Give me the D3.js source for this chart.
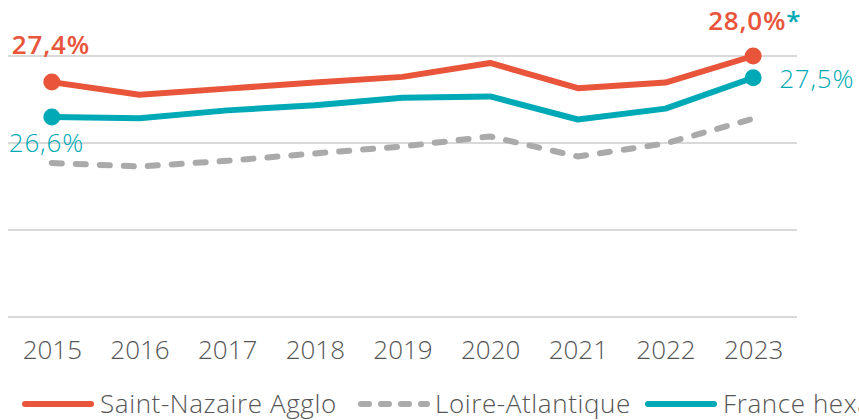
<!DOCTYPE html>
<html>
<head>
<meta charset="utf-8">
<script src="https://cdn.jsdelivr.net/npm/d3@7"></script>
<style>
  body { margin: 0; background: #fff; }
  svg { display: block; font-family: "Open Sans", "Noto Sans", sans-serif; }
</style>
</head>
<body>
<div id="chart"></div>
<script>
var years = ["2015", "2016", "2017", "2018", "2019", "2020", "2021", "2022", "2023"];
var saintNazaire = [27.4, 27.11, 27.25, 27.39, 27.52, 27.84, 27.26, 27.39, 28.0];
var loireAtlantique = [25.54, 25.46, 25.59, 25.76, 25.92, 26.15, 25.69, 25.99, 26.56];
var franceHexa = [26.6, 26.57, 26.75, 26.87, 27.04, 27.07, 26.54, 26.79, 27.5];
var gridValues = [22, 24, 26, 28];
var seriesNames = ["Saint-Nazaire Agglo", "Loire-Atlantique", "France hexagonale"];

var svgWidth = 859;
var svgHeight = 420;

var orange = "#e8553a";
var teal = "#00a9b6";
var grey = "#aaaaaa";

var svg = d3.select("#chart")
    .append("svg")
    .attr("width", svgWidth)
    .attr("height", svgHeight);

var xScale = d3.scalePoint()
    .domain(years)
    .range([8, 797])
    .padding(0.5);

var yScale = d3.scaleLinear()
    .domain([22, 28])
    .range([317, 56]);

// gridlines
svg.append("g")
    .selectAll("line")
    .data(gridValues)
    .enter()
    .append("line")
    .attr("x1", 8)
    .attr("x2", 797)
    .attr("y1", d => yScale(d))
    .attr("y2", d => yScale(d))
    .attr("stroke", "#d9d9d9")
    .attr("stroke-width", 2);

// x axis
var bottomAxis = d3.axisBottom(xScale).tickSize(0).tickPadding(24);
var axisG = svg.append("g")
    .attr("transform", "translate(0, 317)")
    .call(bottomAxis);
axisG.select(".domain").remove();
axisG.selectAll("text")
    .attr("font-size", "26px")
    .attr("font-weight", 300)
    .attr("font-family", "'Open Sans', 'Noto Sans', sans-serif")
    .attr("fill", "#555555");

var line = d3.line()
    .x((d, i) => xScale(years[i]))
    .y(d => yScale(d));

svg.append("path")
    .datum(loireAtlantique)
    .attr("d", line)
    .attr("fill", "none")
    .attr("stroke", grey)
    .attr("stroke-width", 6)
    .attr("stroke-linecap", "round")
    .attr("stroke-dasharray", "10,14");

svg.append("path")
    .datum(franceHexa)
    .attr("d", line)
    .attr("fill", "none")
    .attr("stroke", teal)
    .attr("stroke-width", 6)
    .attr("stroke-linejoin", "round");

svg.append("path")
    .datum(saintNazaire)
    .attr("d", line)
    .attr("fill", "none")
    .attr("stroke", orange)
    .attr("stroke-width", 6)
    .attr("stroke-linejoin", "round");

// end points
var last = years.length - 1;
[[franceHexa, teal], [saintNazaire, orange]].forEach(function(s) {
    svg.selectAll(null)
        .data([0, last])
        .enter()
        .append("circle")
        .attr("cx", i => xScale(years[i]))
        .attr("cy", i => yScale(s[0][i]))
        .attr("r", 8.5)
        .attr("fill", s[1]);
});

// value labels
var fmt = v => v.toFixed(1).replace(".", ",") + "%";

svg.append("text")
    .attr("x", xScale(years[0]) - 40)
    .attr("y", yScale(saintNazaire[0]) - 28)
    .attr("font-size", "26px")
    .attr("letter-spacing", "0.8px")
    .attr("font-weight", 600)
    .attr("fill", orange)
    .text(fmt(saintNazaire[0]));

svg.append("text")
    .attr("x", xScale(years[0]) - 43)
    .attr("y", yScale(franceHexa[0]) + 35)
    .attr("font-size", "26px")
    .attr("letter-spacing", "0.8px")
    .attr("font-weight", 300)
    .attr("fill", teal)
    .text(fmt(franceHexa[0]));

var lbl = svg.append("text")
    .attr("x", xScale(years[last]) - 45)
    .attr("y", yScale(saintNazaire[last]) - 26)
    .attr("font-size", "26px")
    .attr("letter-spacing", "0.8px")
    .attr("font-weight", 600)
    .attr("fill", orange);
lbl.append("tspan").text(fmt(saintNazaire[last]));
lbl.append("tspan").attr("fill", teal).text("*");

svg.append("text")
    .attr("x", xScale(years[last]) + 26)
    .attr("y", yScale(franceHexa[last]) + 10)
    .attr("font-size", "26px")
    .attr("letter-spacing", "0.8px")
    .attr("font-weight", 300)
    .attr("fill", teal)
    .text(fmt(franceHexa[last]));

// legend
var legendItems = [
    { name: seriesNames[0], color: orange, dash: null, x: 22 },
    { name: seriesNames[1], color: grey, dash: "8,12", x: 358 },
    { name: seriesNames[2], color: teal, dash: null, x: 645 }
];
var legend = svg.append("g").attr("transform", "translate(0, 404)");
legendItems.forEach(function(d) {
    legend.append("line")
        .attr("x1", d.x + 3)
        .attr("x2", d.x + 69)
        .attr("y1", 0)
        .attr("y2", 0)
        .attr("stroke", d.color)
        .attr("stroke-width", 6)
        .attr("stroke-linecap", "round")
        .attr("stroke-dasharray", d.dash);
    legend.append("text")
        .attr("x", d.dash ? d.x + 77 : d.x + 78)
        .attr("y", 9)
        .attr("font-size", "26px")
        .attr("letter-spacing", "0.6px")
        .attr("font-weight", 300)
        .attr("fill", "#555555")
        .text(d.name);
});
</script>
</body>
</html>
